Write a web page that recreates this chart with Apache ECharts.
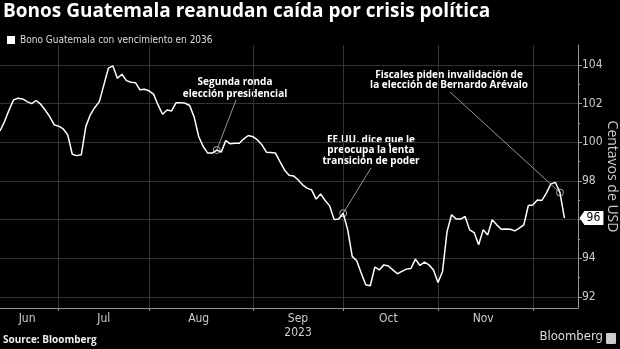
<!DOCTYPE html>
<html>
<head>
<meta charset="utf-8">
<script src="https://cdn.jsdelivr.net/npm/echarts@6/dist/echarts.min.js"></script>
<style>
html,body{margin:0;padding:0;background:#000;}
#chart{width:620px;height:349px;}
</style>
</head>
<body>
<div id="chart"></div>
<script>
// ---- data ----
const seriesName = 'Bono Guatemala con vencimiento en 2036';
const startDate = '2023-06-13';
const holidays = ['2023-06-19', '2023-07-04', '2023-09-04', '2023-10-09', '2023-11-23'];
const categoryCount = 129;
const priceValues = [
  100.59, 101.07, 101.67, 102.19, 102.28, 102.24, 102.10, 102.00, 102.16, 101.97,
  101.67, 101.33, 100.90, 100.83, 100.69, 100.38, 99.38, 99.31, 99.35, 100.81,
  101.42, 101.80, 102.10, 102.97, 103.83, 103.95, 103.31, 103.52, 103.19, 103.10,
  103.08, 102.71, 102.74, 102.66, 102.49, 101.93, 101.45, 101.67, 101.62, 102.05,
  102.05, 102.02, 101.90, 101.30, 100.30, 99.78, 99.44, 99.44, 99.60, 99.49,
  100.09, 99.92, 99.95, 99.95, 100.18, 100.35, 100.29, 100.12, 99.87, 99.49,
  99.47, 99.44, 99.00, 98.57, 98.30, 98.26, 98.06, 97.80, 97.63, 97.54,
  97.06, 97.33, 96.99, 96.71, 96.00, 96.03, 96.33, 95.47, 94.10, 93.87,
  93.23, 92.63, 92.58, 93.54, 93.40, 93.66, 93.60, 93.40, 93.20, 93.32,
  93.44, 93.47, 93.96, 93.63, 93.80, 93.66, 93.40, 92.75, 93.32, 95.38,
  96.25, 96.03, 96.03, 96.16, 95.47, 95.33, 94.70, 95.47, 95.21, 95.99,
  95.73, 95.50, 95.52, 95.50, 95.42, 95.56, 95.73, 96.73, 96.76, 97.02,
  96.99, 97.37, 97.85, 97.92, 97.40, 96.08
];
const yTicks = [92, 94, 96, 98, 100, 102, 104];
const yMinorTicks = [93, 95, 97, 99, 101, 103];
const monthNames = ['Jan','Feb','Mar','Apr','May','Jun','Jul','Aug','Sep','Oct','Nov','Dec'];
const yearLabel = '2023';
const annotationIndex = [48, 76, 124];
const annotationText = [
  'Segunda ronda\nelección presidencial',
  'EE.UU. dice que le\npreocupa la lenta\ntransición de poder',
  'Fiscales piden invalidación de\nla elección de Bernardo Arévalo'
];

// ---- build trading-day categories ----
function fmt(d){ return d.toISOString().slice(0,10); }
const dates = [];
{
  let d = new Date(startDate + 'T00:00:00Z');
  while (dates.length < categoryCount) {
    const wd = d.getUTCDay();
    const s = fmt(d);
    if (wd !== 0 && wd !== 6 && holidays.indexOf(s) < 0) dates.push(s);
    d = new Date(d.getTime() + 86400000);
  }
}
const monthOf = s => parseInt(s.slice(5,7), 10) - 1;
const monthStarts = [];
for (let i = 1; i < dates.length; i++) if (monthOf(dates[i]) !== monthOf(dates[i-1])) monthStarts.push(i);
const startSet = new Set(monthStarts);
const labelIdx = new Map();
{
  const bounds = [0].concat(monthStarts);
  for (let k = 0; k < bounds.length - 1; k++) {
    const mid = Math.floor((bounds[k] + bounds[k+1]) / 2);
    labelIdx.set(mid, monthOf(dates[bounds[k]]));
  }
}
const lastIdx = priceValues.length - 1;

const chart = echarts.init(document.getElementById('chart'), null, {renderer: 'canvas'});
const FONT = "'Open Sans', 'Noto Sans', sans-serif";
const NARROW = "'Liberation Sans Narrow', 'DejaVu Sans Condensed', Roboto, sans-serif";

// text anchor points of the leader lines (pixel space of annotation text blocks)
const textPos = [[236, 100], [371, 168], [450, 92]];

const annFont = 'bold 10px ' + FONT;
const baseGraphic = [
  {type: 'text', x: 3, y: 2, style: {text: 'Bonos Guatemala reanudan caída por crisis política', fill: '#fff', font: 'bold 19px ' + FONT}},
  {type: 'text', x: 3, y: 335, style: {text: 'Source: Bloomberg', fill: '#eee', font: 'bold 10px ' + FONT}},
  {type: 'text', right: 17, top: 330, style: {text: 'Bloomberg', fill: '#ddd', font: '13px ' + NARROW}},
  {type: 'rect', right: 4, top: 333, shape: {width: 10, height: 11, r: 1}, style: {fill: '#ccc'}},
  {type: 'text', x: 235, y: 76.5, style: {text: annotationText[0], fill: '#fff', font: annFont, align: 'center', verticalAlign: 'top', lineHeight: 11.5}},
  {type: 'text', x: 371, y: 134.5, style: {text: annotationText[1], fill: '#fff', font: annFont, align: 'center', verticalAlign: 'top', lineHeight: 10.5}},
  {type: 'text', x: 449, y: 69.5, style: {text: annotationText[2], fill: '#fff', font: annFont, align: 'center', verticalAlign: 'top', lineHeight: 10.5}}
];

chart.setOption({
  backgroundColor: '#000',
  animation: false,
  grid: {left: 0, right: 42, top: 45, bottom: 41, containLabel: false, outerBoundsMode: 'none'},
  legend: {
    left: 2, top: 30, itemWidth: 8, itemHeight: 8, itemGap: 3, icon: 'rect',
    textStyle: {color: '#ddd', fontSize: 10, fontFamily: NARROW},
    data: [seriesName]
  },
  graphic: baseGraphic,
  xAxis: {
    type: 'category',
    data: dates,
    boundaryGap: false,
    axisLine: {lineStyle: {color: '#999', width: 1}},
    axisTick: {show: true, length: 3, interval: (i) => startSet.has(i), lineStyle: {color: '#999'}},
    axisLabel: {
      interval: (i) => labelIdx.has(i),
      formatter: (v, i) => { const m = monthOf(v); return monthNames[m] + (m === 8 ? '\n' + yearLabel : ''); },
      color: '#ccc', fontSize: 12, fontFamily: NARROW, margin: 4, lineHeight: 14
    },
    splitLine: {show: true, interval: (i) => startSet.has(i), lineStyle: {color: '#333', width: 1}}
  },
  yAxis: [{
    type: 'value', position: 'right', min: 91.43, max: 105.03,
    axisLine: {show: true, lineStyle: {color: '#999'}},
    axisTick: {show: true, length: 4, customValues: yTicks, lineStyle: {color: '#999'}},
    axisLabel: {customValues: yTicks, color: '#ccc', fontSize: 12, fontFamily: NARROW, margin: 4},
    splitLine: {show: false},
    name: 'Centavos de USD', nameLocation: 'middle', nameRotate: -90, nameGap: 27, nameMoveOverlap: false,
    nameTextStyle: {color: '#ccc', fontSize: 14, fontFamily: FONT}
  }, {
    type: 'value', position: 'right', min: 91.43, max: 105.03,
    axisLine: {show: false},
    axisTick: {show: true, length: 2, customValues: yMinorTicks, lineStyle: {color: '#999'}},
    axisLabel: {show: false},
    splitLine: {show: false}
  }],
  series: [{
    name: seriesName,
    type: 'line',
    data: priceValues,
    showSymbol: false,
    symbol: 'none',
    lineStyle: {color: '#fff', width: 1.5},
    itemStyle: {color: '#fff'},
    z: 5,
    markLine: {
      silent: true, symbol: 'none', animation: false,
      label: {show: false},
      lineStyle: {color: '#333', width: 1, type: 'solid'},
      data: yTicks.map(v => ({yAxis: v}))
    },
    markPoint: {
      silent: true, animation: false,
      data: annotationIndex.map(idx => ({
        coord: [idx, priceValues[idx]], symbol: 'circle', symbolSize: 7,
        itemStyle: {color: 'rgba(0,0,0,0)', borderColor: '#aaa', borderWidth: 1},
        label: {show: false}
      })).concat([{
        coord: [lastIdx, priceValues[lastIdx]],
        symbol: 'path://M0,6 L5,0 L24,0 L24,12 L5,12 Z', symbolSize: [24, 14], symbolOffset: [27, 0],
        itemStyle: {color: '#fff'},
        label: {show: true, position: 'inside', offset: [2, 0], formatter: Math.round(priceValues[lastIdx]).toString(), color: '#000', fontSize: 12, fontFamily: NARROW}
      }])
    }
  }]
});

// leader lines from each annotated data point (converted through the axes) to its text
const leaders = annotationIndex.map((idx, k) => {
  const p = chart.convertToPixel({gridIndex: 0}, [idx, priceValues[idx]]);
  return {type: 'line', silent: true, z: 10,
    shape: {x1: p[0], y1: p[1], x2: textPos[k][0], y2: textPos[k][1]},
    style: {stroke: '#bbb', lineWidth: 0.8}};
});
chart.setOption({graphic: baseGraphic.concat(leaders)});
</script>
</body>
</html>
